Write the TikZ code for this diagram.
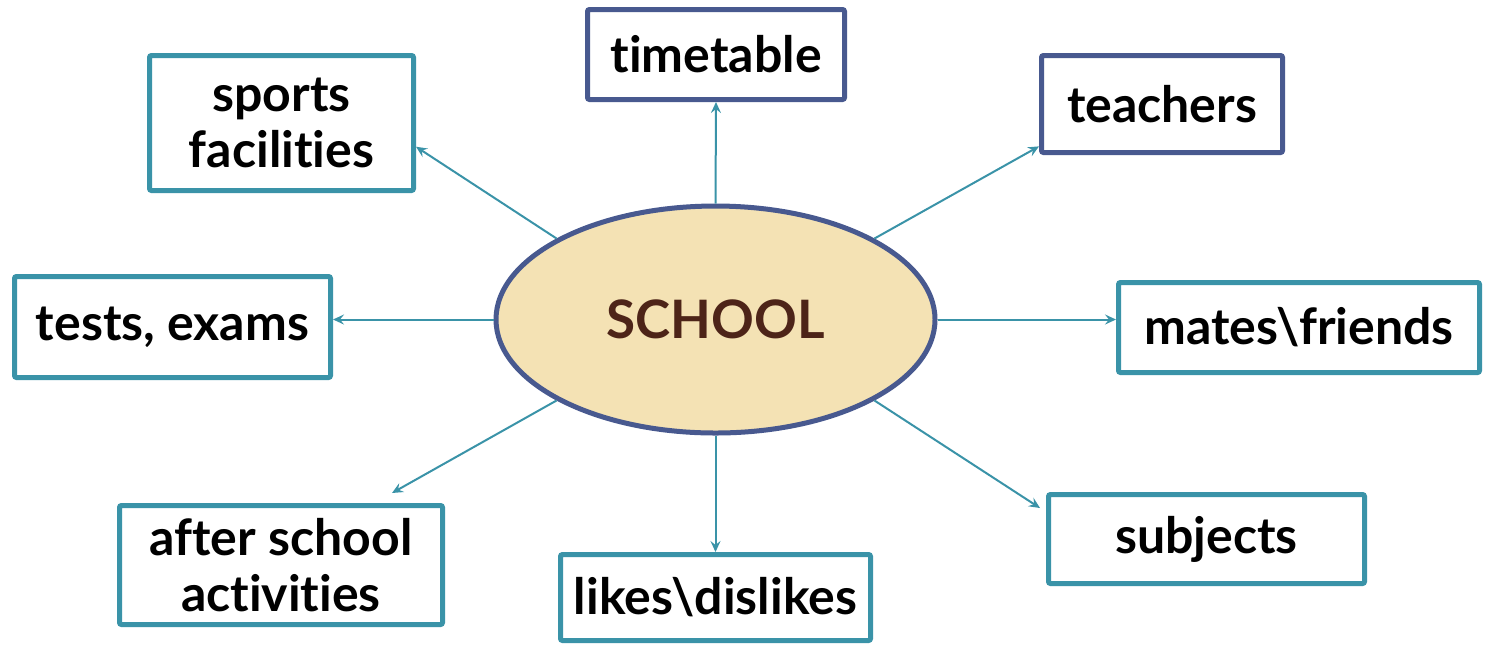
\documentclass[tikz,border=0pt]{standalone}
\usepackage{fontspec}
\setmainfont{Lato}[Ligatures = NoCommon]
\usetikzlibrary{arrows.meta}
\usetikzlibrary{shapes}

\definecolor{tealLine}{HTML}{3A93A8}
\definecolor{navyLine}{HTML}{48598F}
\definecolor{hubFill}{HTML}{F4E2B4}
\definecolor{hubText}{HTML}{4D2418}

\begin{document}
\begin{tikzpicture}[x = 0.5pt, y = -0.5pt, font=\bfseries\fontsize{25}{28}\selectfont]
	\tikzstyle{boxStyle} = [shape = rectangle, rounded corners = 1pt, line width = 2.5pt, fill = white, align = center, inner sep = 0pt]
	\tikzstyle{tealStyle} = [boxStyle, draw = tealLine]
	\tikzstyle{navyStyle} = [boxStyle, draw = navyLine]
	\tikzstyle{hubStyle} = [shape = ellipse, draw = navyLine, line width = 2.5pt, fill = hubFill, text = hubText, inner sep = 0pt, minimum width = 219.5pt, minimum height = 113.5pt, font = \bfseries\fontsize{26.5}{30}\selectfont]
	\tikzstyle{linkStyle} = [draw = tealLine, line width = 1pt, -{Stealth[length = 5.5pt, width = 5pt, inset = 2pt]}]
	\useasboundingbox (0, 0) rectangle (1486, 645);
	\node[hubStyle] (school) at (715.5, 319.5) {SCHOOL};
	\node[tealStyle, minimum width = 132pt, minimum height = 67.5pt] (sports) at (281.5, 123) {sports\\facilities};
	\node[navyStyle, minimum width = 128.5pt, minimum height = 45pt] (timetable) at (716, 54.5) {timetable};
	\node[navyStyle, minimum width = 120.5pt, minimum height = 48.5pt] (teachers) at (1162, 104) {teachers};
	\node[tealStyle, minimum width = 158pt, minimum height = 50.5pt] (tests) at (172.5, 327) {tests, exams};
	\node[tealStyle, minimum width = 180.5pt, minimum height = 45pt] (mates) at (1299, 327.5) {mates\textbackslash friends};
	\node[tealStyle, minimum width = 161.5pt, minimum height = 59.5pt] (after) at (281, 565) {after school\\activities};
	\node[tealStyle, minimum width = 155pt, minimum height = 43pt] (likes) at (715.5, 597.5) {likes\textbackslash dislikes};
	\node[tealStyle, minimum width = 158pt, minimum height = 44.5pt] (subjects) at (1206.5, 539) {subjects};
	\draw[linkStyle] (school.153) -- (sports.-10.5);
	\draw[linkStyle] (school.north) -- (timetable.south);
	\draw[linkStyle] (school.27) -- (teachers.199);
	\draw[linkStyle] (school.west) -- (school.west -| tests.east);
	\draw[linkStyle] (school.east) -- (school.east -| mates.west);
	\draw[linkStyle] (school.207) -- ([xshift = 55.5pt, yshift = 5pt]after.north);
	\draw[linkStyle] (school.south) -- (likes.north);
	\draw[linkStyle] (school.333) -- ([xshift = -3pt, yshift = 15.5pt]subjects.west);
\end{tikzpicture}
\end{document}
